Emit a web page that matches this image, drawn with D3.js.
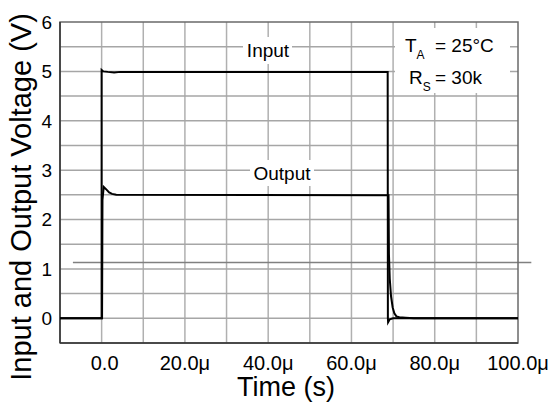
<!DOCTYPE html>
<html>
<head>
<meta charset="utf-8">
<script src="https://cdn.jsdelivr.net/npm/d3@7"></script>
<style>
  body { margin: 0; background: #fff; }
  text { font-family: "Liberation Sans", Arial, sans-serif; fill: #000; }
</style>
</head>
<body>
<script>
// time in microseconds, volts
var inputWave = [[-10, 0], [-0.1, 0], [0, 0], [0, 5.03], [0.4, 5.0], [1.5, 4.99], [3, 4.98], [4.5, 4.99], [68.7, 4.99],
  [68.75, 0], [68.8, -0.08], [69.2, -0.02], [70, 0], [100, 0]];
var outputWave = [[-10, 0], [0.1, 0], [0.2, 2.4], [0.5, 2.66], [1, 2.62], [1.8, 2.55], [2.5, 2.52], [3.5, 2.5], [68.9, 2.49],
  [69.0, 1.3], [69.2, 0.8], [69.5, 0.45], [69.9, 0.22], [70.3, 0.1], [70.8, 0.04], [71.5, 0.02], [73, 0.01], [75, 0.0], [100, 0]];
var xTicks = [0, 20, 40, 60, 80, 100];
var xTickLabels = ["0.0", "20.0\u03bc", "40.0\u03bc", "60.0\u03bc", "80.0\u03bc", "100.0\u03bc"];
var yTicks = [0, 1, 2, 3, 4, 5, 6];
var strayLine = [[-6.9, 1.13], [103.2, 1.13]];

var W = 554, H = 404;
var plotL = 60, plotR = 518, plotT = 22, plotB = 343;

var svg = d3.select("body").append("svg")
    .attr("width", W)
    .attr("height", H);

var x = d3.scaleLinear().domain([-10, 100]).range([plotL, plotR]);
var y = d3.scaleLinear().domain([-0.5, 6]).range([plotB, plotT]);

// grid
svg.append("g").selectAll("line")
  .data(d3.range(0, 100, 10))
  .enter().append("line")
    .attr("x1", d => x(d)).attr("x2", d => x(d))
    .attr("y1", plotT).attr("y2", plotB)
    .attr("stroke", "#b0b0b0").attr("stroke-width", 1.5);
svg.append("g").selectAll("line")
  .data(d3.range(0, 6, 0.5))
  .enter().append("line")
    .attr("x1", plotL).attr("x2", plotR)
    .attr("y1", d => y(d)).attr("y2", d => y(d))
    .attr("stroke", "#a6a6a6").attr("stroke-width", 1.5);

// stray horizontal line
svg.append("line")
  .attr("x1", x(strayLine[0][0])).attr("x2", x(strayLine[1][0]))
  .attr("y1", y(strayLine[0][1])).attr("y2", y(strayLine[1][1]))
  .attr("stroke", "#808080").attr("stroke-width", 1.5);

// frame
svg.append("rect")
  .attr("x", plotL).attr("y", plotT)
  .attr("width", plotR - plotL).attr("height", plotB - plotT)
  .attr("fill", "none").attr("stroke", "#6a6a6a").attr("stroke-width", 1.5);
svg.append("line").attr("x1", plotL).attr("x2", plotL).attr("y1", plotT).attr("y2", plotB)
  .attr("stroke", "#333").attr("stroke-width", 1.5);
svg.append("line").attr("x1", plotL).attr("x2", plotR).attr("y1", plotB).attr("y2", plotB)
  .attr("stroke", "#333").attr("stroke-width", 1.5);

// label backgrounds
svg.append("rect").attr("x", 243).attr("y", 37).attr("width", 49).attr("height", 27).attr("fill", "#fff");
svg.append("rect").attr("x", 250).attr("y", 160).attr("width", 64).attr("height", 26).attr("fill", "#fff");
svg.append("rect").attr("x", 395).attr("y", 28).attr("width", 115).attr("height", 65).attr("fill", "#fff");

var line = d3.line().x(d => x(d[0])).y(d => y(d[1]));

svg.append("path").datum(inputWave)
  .attr("d", line).attr("fill", "none")
  .attr("stroke", "#000").attr("stroke-width", 2);
svg.append("path").datum(outputWave)
  .attr("d", line).attr("fill", "none")
  .attr("stroke", "#000").attr("stroke-width", 2);

// tick labels
svg.append("g").selectAll("text")
  .data(yTicks)
  .enter().append("text")
    .attr("x", 52).attr("y", d => y(d)).attr("dy", "0.36em")
    .attr("text-anchor", "end").attr("font-size", 19)
    .text(d => d);
svg.append("g").selectAll("text")
  .data(xTicks)
  .enter().append("text")
    .attr("x", (d, i) => x(d) + (i == 0 ? 3 : 0)).attr("y", 370)
    .attr("text-anchor", "middle").attr("font-size", 20)
    .text((d, i) => xTickLabels[i]);

// axis titles
svg.append("text")
  .attr("x", 286).attr("y", 396)
  .attr("text-anchor", "middle").attr("font-size", 27)
  .text("Time (s)");
svg.append("text")
  .attr("transform", "translate(31," + 197 + ") rotate(-90)")
  .attr("text-anchor", "middle").attr("font-size", 29)
  .text("Input and Output Voltage (V)");

// trace labels
svg.append("text").attr("x", 268).attr("y", 57).attr("text-anchor", "middle").attr("font-size", 19).text("Input");
svg.append("text").attr("x", 282).attr("y", 180).attr("text-anchor", "middle").attr("font-size", 19).text("Output");

// conditions
var c1 = svg.append("text").attr("x", 405).attr("y", 52).attr("font-size", 19);
c1.append("tspan").text("T");
c1.append("tspan").attr("font-size", 12).attr("dy", 7).text("A");
c1.append("tspan").attr("x", 435).attr("dy", -7).text("= 25\u00b0C");
var c2 = svg.append("text").attr("x", 409).attr("y", 84).attr("font-size", 19);
c2.append("tspan").text("R");
c2.append("tspan").attr("font-size", 12).attr("dy", 7).text("S");
c2.append("tspan").attr("x", 435).attr("dy", -7).text("= 30k");
</script>
</body>
</html>
